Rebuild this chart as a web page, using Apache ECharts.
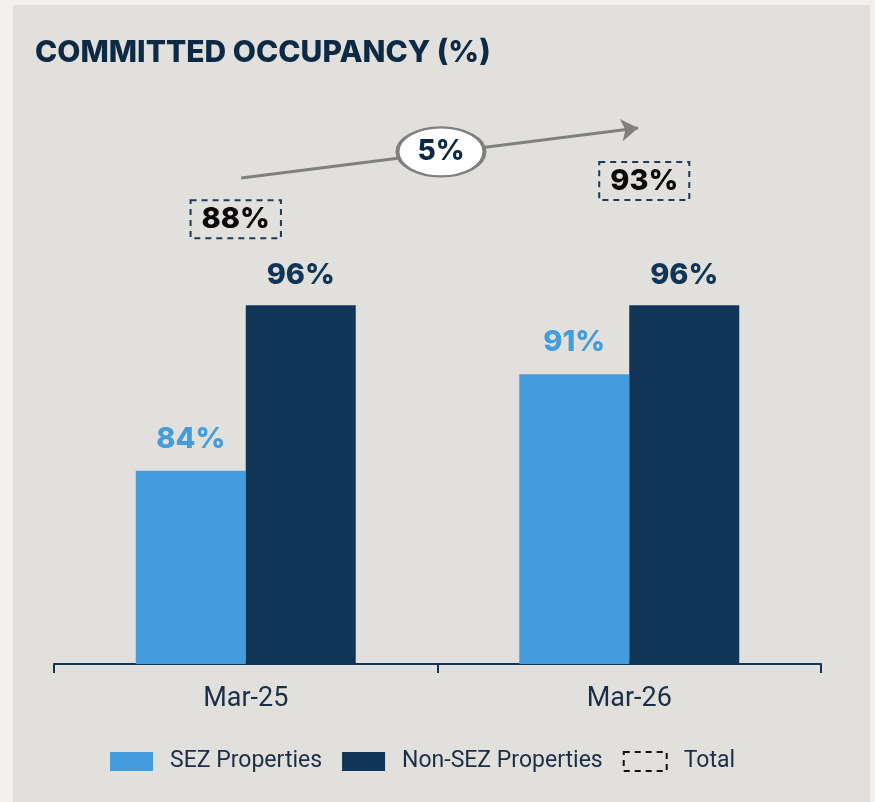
<!DOCTYPE html>
<html>
<head>
<meta charset="utf-8">
<script src="https://cdn.jsdelivr.net/npm/echarts@6/dist/echarts.min.js"></script>
<style>
  html, body { margin: 0; padding: 0; background: #f1f0ee; }
  #chart { width: 875px; height: 802px; }
</style>
</head>
<body>
<div id="chart"></div>
<script>
const categories = ['Mar-25', 'Mar-26']
const sezValues = [84, 91]
const nonSezValues = [96, 96]
const totalValues = [88, 93]
const changeLabel = '5%'

const navy = '#103557'
const blue = '#439cdb'

const chart = echarts.init(document.getElementById('chart'), null, { renderer: 'canvas' })

// hidden axes for the annotation layer (arrow + change bubble)
const arrowFrom = [-0.012, 93.4]
const arrowTo = [1.023, 99.9]
const bubbleAt = [0.509, 96.8]

chart.setOption({
  animation: false,
  backgroundColor: '#f1f0ee',
  textStyle: { fontFamily: 'Inter, Roboto, sans-serif' },
  graphic: [{
    type: 'rect',
    z: -10,
    shape: { x: 13, y: 5, width: 857, height: 800 },
    style: { fill: '#e2e0dc' }
  }],
  title: {
    text: 'COMMITTED OCCUPANCY (%)',
    left: 30,
    top: 33,
    textStyle: { fontSize: 30, fontWeight: 800, color: '#0d2a45', fontFamily: 'Inter' }
  },
  legend: {
    bottom: 24,
    left: 105,
    itemWidth: 43,
    itemHeight: 19,
    itemGap: 20,
    selectedMode: false,
    textStyle: { fontSize: 23, color: '#1a2e45', fontFamily: 'Roboto', padding: [0, 0, 0, 12] },
    data: [
      { name: 'SEZ Properties', icon: 'rect' },
      { name: 'Non-SEZ Properties', icon: 'rect' },
      {
        name: 'Total',
        icon: 'rect',
        itemStyle: { color: 'transparent', borderColor: '#111', borderWidth: 2, borderType: [6, 5], opacity: 1 }
      }
    ]
  },
  grid: { left: 54, right: 54, top: 112, bottom: 138 },
  xAxis: [{
    type: 'category',
    data: categories,
    axisLine: { lineStyle: { color: navy, width: 2 } },
    axisTick: { show: true, length: 9, lineStyle: { color: navy, width: 2 } },
    axisLabel: { fontSize: 27, color: '#1a2e45', margin: 22, fontFamily: 'Roboto' }
  }, {
    type: 'value',
    min: -0.5,
    max: 1.5,
    show: false
  }],
  yAxis: [
    { type: 'value', min: 70, max: 110, show: false, splitLine: { show: false } },
    { type: 'value', min: 30, max: 102, show: false, splitLine: { show: false } }
  ],
  series: [
    {
      name: 'SEZ Properties',
      type: 'bar',
      data: sezValues,
      barWidth: 110,
      barGap: '0%',
      itemStyle: { color: blue },
      label: {
        show: true, position: 'top', distance: 17,
        formatter: '{c}%', fontSize: 29, fontWeight: 800, color: blue
      }
    },
    {
      name: 'Non-SEZ Properties',
      type: 'bar',
      data: nonSezValues,
      barWidth: 110,
      itemStyle: { color: navy },
      label: {
        show: true, position: 'top', distance: 15,
        formatter: '{c}%', fontSize: 29, fontWeight: 800, color: navy
      }
    },
    {
      name: 'Total',
      type: 'scatter',
      yAxisIndex: 1,
      symbolSize: 0,
      itemStyle: { color: 'transparent', opacity: 1 },
      data: totalValues.map((v, i) => ({
        value: v,
        label: { offset: i === 0 ? [-10, 0] : [15, 0] }
      })),
      label: {
        show: true,
        position: 'inside',
        formatter: '{c}%',
        fontSize: 29,
        fontWeight: 800,
        color: '#0a0a0a',
        textBorderWidth: 0,
        lineHeight: 30,
        padding: [5, 11, 3, 11],
        borderColor: '#1c3a55',
        borderWidth: 2,
        borderType: [6, 5]
      }
    },
    {
      name: 'arrow',
      type: 'line',
      xAxisIndex: 1,
      yAxisIndex: 1,
      z: 1,
      data: [],
      markLine: {
        silent: true,
        symbol: ['none', 'arrow'],
        symbolSize: 17,
        label: { show: false },
        lineStyle: { color: '#808080', width: 3, type: 'solid', opacity: 1 },
        data: [[{ coord: arrowFrom }, { coord: arrowTo }]]
      }
    },
    {
      name: 'change',
      type: 'scatter',
      xAxisIndex: 1,
      yAxisIndex: 1,
      z: 5,
      symbol: 'circle',
      symbolSize: [87, 49],
      itemStyle: { color: '#ffffff', borderColor: '#7f7f7f', borderWidth: 3, opacity: 1 },
      label: {
        show: true, position: 'inside', formatter: changeLabel,
        fontSize: 28, fontWeight: 800, color: '#0d2a45', textBorderWidth: 0
      },
      data: [bubbleAt]
    }
  ]
})
</script>
</body>
</html>
